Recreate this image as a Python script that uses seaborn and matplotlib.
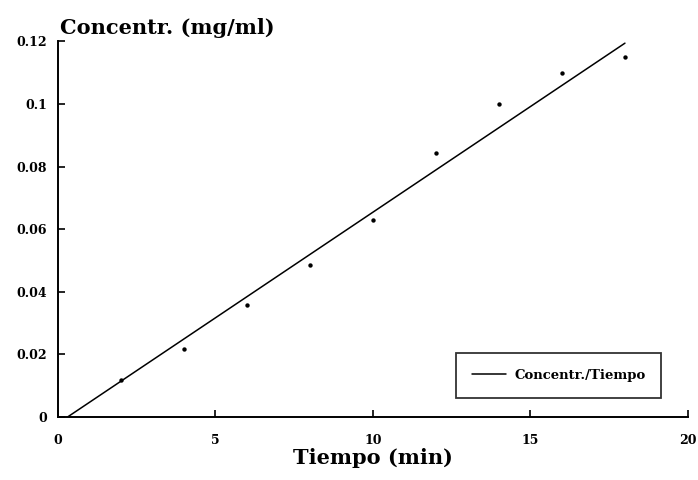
import numpy as np
import pandas as pd
import seaborn as sns
import matplotlib.pyplot as plt

tiempo = [2, 4, 6, 8, 10, 12, 14, 16, 18]
concentr = [0.012, 0.0216, 0.0358, 0.0487, 0.0629, 0.0842, 0.100, 0.110, 0.115]

# fitted line as drawn in the original
fit_tiempo = [0.3, 18.0]
fit_concentr = [0.0, 0.1194]

x_ticks = [0, 5, 10, 15, 20]
y_ticks = [0, 0.02, 0.04, 0.06, 0.08, 0.1, 0.12]
y_labels = ["0", "0.02", "0.04", "0.06", "0.08", "0.1", "0.12"]

sns.set_style("ticks")
plt.rcParams["font.family"] = ["DejaVu Serif"]
plt.rcParams["font.weight"] = "bold"
plt.rcParams["text.color"] = "black"
plt.rcParams["xtick.color"] = "black"
plt.rcParams["ytick.color"] = "black"
plt.rcParams["axes.labelcolor"] = "black"
plt.rcParams["axes.edgecolor"] = "black"

pts = pd.DataFrame({"t": tiempo, "c": concentr})
fit = pd.DataFrame({"t": fit_tiempo, "c": fit_concentr})

fig = plt.figure(figsize=(6.98, 4.8), dpi=100)
ax = fig.add_axes([0.083, 0.131, 0.9026, 0.783])

sns.scatterplot(data=pts, x="t", y="c", ax=ax, color="black", s=10,
                edgecolor="black", linewidth=0, legend=False)
sns.lineplot(data=fit, x="t", y="c", ax=ax, color="black", linewidth=1.1,
             label="Concentr./Tiempo")

ax.set_xlim(0, 20)
ax.set_ylim(0, 0.12)
ax.set_xticks(x_ticks)
ax.set_xticklabels([str(v) for v in x_ticks], fontsize=9, fontweight="bold")
ax.set_yticks(y_ticks)
ax.set_yticklabels(y_labels, fontsize=9, fontweight="bold")
ax.tick_params(axis="both", direction="in", length=5, width=1.2, pad=8)
ax.tick_params(axis="x", pad=12)

sns.despine(ax=ax)
for s in ["left", "bottom"]:
    ax.spines[s].set_linewidth(1.4)

ax.set_xlabel("Tiempo (min)", fontsize=15, fontweight="bold", labelpad=1)
ax.set_ylabel("")
ax.text(0.003, 1.01, "Concentr. (mg/ml)", transform=ax.transAxes,
        fontsize=15, fontweight="bold", ha="left", va="bottom")

leg = ax.legend(loc="lower right", bbox_to_anchor=(0.958, 0.052),
                frameon=True, fancybox=False, edgecolor="black",
                handlelength=2.6, handletextpad=0.6, borderpad=1.2,
                borderaxespad=0, prop={"weight": "bold", "size": 9.5})
leg.get_frame().set_linewidth(1.3)

fig.savefig("out.png", dpi=100)
